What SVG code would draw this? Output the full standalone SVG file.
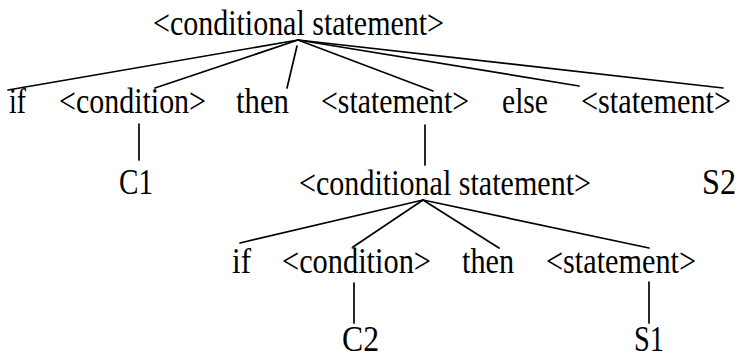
<svg xmlns="http://www.w3.org/2000/svg" width="741" height="354" viewBox="0 0 741 354">
  <style>
    text { font-family: "Liberation Serif", "Times New Roman", serif; font-size: 36px; fill: #000; }
    .c line { stroke: #000; stroke-width: 1.7; stroke-linecap: round; }
  </style>
  <rect width="741" height="354" fill="#fff"/>
  <g id="connectors" class="c">
    <line x1="298" y1="40" x2="8" y2="90"/>
    <line x1="298" y1="40" x2="155" y2="88"/>
    <line x1="297" y1="46" x2="287" y2="88"/>
    <line x1="298" y1="40" x2="433" y2="91"/>
    <line x1="298" y1="40" x2="579" y2="86"/>
    <line x1="298" y1="40" x2="723" y2="88"/>
    <line x1="139" y1="124" x2="139" y2="160"/>
    <line x1="425" y1="125" x2="425" y2="165"/>
    <line x1="423" y1="200" x2="240" y2="243"/>
    <line x1="423" y1="200" x2="353" y2="247"/>
    <line x1="423" y1="200" x2="499" y2="248"/>
    <line x1="423" y1="200" x2="649" y2="248"/>
    <line x1="354" y1="283" x2="354" y2="323"/>
    <line x1="649" y1="282" x2="649" y2="323"/>
  </g>
  <g id="n-cond1"><text x="153" y="35" textLength="291" lengthAdjust="spacingAndGlyphs">&lt;conditional statement&gt;</text></g>
  <g id="n-if1"><text x="9" y="113" textLength="17" lengthAdjust="spacingAndGlyphs">if</text></g>
  <g id="n-condition1"><text x="59" y="113" textLength="147" lengthAdjust="spacingAndGlyphs">&lt;condition&gt;</text></g>
  <g id="n-then1"><text x="236" y="113" textLength="53" lengthAdjust="spacingAndGlyphs">then</text></g>
  <g id="n-stmt1"><text x="321" y="113" textLength="148" lengthAdjust="spacingAndGlyphs">&lt;statement&gt;</text></g>
  <g id="n-else"><text x="502" y="113" textLength="46" lengthAdjust="spacingAndGlyphs">else</text></g>
  <g id="n-stmt2"><text x="581" y="113" textLength="150" lengthAdjust="spacingAndGlyphs">&lt;statement&gt;</text></g>
  <g id="n-c1"><text x="119" y="194" textLength="34" lengthAdjust="spacingAndGlyphs">C1</text></g>
  <g id="n-cond2"><text x="299" y="195" textLength="292" lengthAdjust="spacingAndGlyphs">&lt;conditional statement&gt;</text></g>
  <g id="n-s2"><text x="702" y="194" textLength="34" lengthAdjust="spacingAndGlyphs">S2</text></g>
  <g id="n-if2"><text x="232" y="273" textLength="19" lengthAdjust="spacingAndGlyphs">if</text></g>
  <g id="n-condition2"><text x="282" y="273" textLength="149" lengthAdjust="spacingAndGlyphs">&lt;condition&gt;</text></g>
  <g id="n-then2"><text x="462" y="273" textLength="52" lengthAdjust="spacingAndGlyphs">then</text></g>
  <g id="n-stmt3"><text x="546" y="273" textLength="150" lengthAdjust="spacingAndGlyphs">&lt;statement&gt;</text></g>
  <g id="n-c2"><text x="342" y="351" textLength="37" lengthAdjust="spacingAndGlyphs">C2</text></g>
  <g id="n-s1"><text x="634" y="351" textLength="30" lengthAdjust="spacingAndGlyphs">S1</text></g>
</svg>
